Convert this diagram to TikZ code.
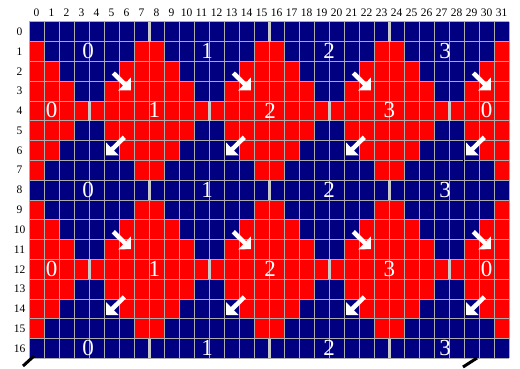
\documentclass[tikz,border=0pt]{standalone}
\usepackage{fontspec}
\setmainfont{Liberation Serif}
\usepackage{tikz}
\usetikzlibrary{arrows.meta}
\usepackage{xcolor}
\definecolor{CellBlue}{RGB}{0,0,128}
\definecolor{CellRed}{RGB}{255,0,0}
\definecolor{GridGray}{RGB}{172,172,172}
\definecolor{SeamGray}{RGB}{200,200,200}
\tikzset{
  bluecell/.style={fill=CellBlue},
  redcell/.style={fill=CellRed},
  gridline/.style={draw=GridGray, line width=0.8pt},
  seammark/.style={draw=SeamGray, line width=3pt},
  indexlabel/.style={font=\fontsize{11.5}{12}\selectfont, inner sep=0pt},
  tilelabel/.style={text=white, font=\fontsize{23}{23}\selectfont,
    inner sep=0pt},
  shiftarrow/.style={white, line width=4.5pt,
    -{Triangle[length=9pt,width=17.6pt]}},
  tickmark/.style={black, line width=3pt}
}

\begin{document}
\begin{tikzpicture}[x=1pt,y=-1pt]
  \useasboundingbox (0,0) rectangle (520,368);

  \foreach \r in {0,...,16}{
    \foreach \c in {0,...,31}{
      \pgfmathtruncatemacro{\isblue}{abs(mod(\c,8)-3.5)+min(mod(\r,8),8-mod(\r,8))<4}
      \ifnum\isblue=1
        \fill[bluecell] ({29+15*\c},{21.7+19.8*\r}) rectangle ++(15,19.8);
      \else
        \fill[redcell] ({29+15*\c},{21.7+19.8*\r}) rectangle ++(15,19.8);
      \fi
    }
  }

  \foreach \c in {0,...,32}
    \draw[gridline] ({29+15*\c},21.7) -- ({29+15*\c},358.3);
  \foreach \r in {0,...,17}
    \draw[gridline] (29,{21.7+19.8*\r}) -- (509,{21.7+19.8*\r});

  \foreach \r in {0,8,16}
    \foreach \c in {8,16,24}
      \draw[seammark] ({29+15*\c},{21.7+19.8*\r}) -- ++(0,19.8);
  \foreach \r in {4,12}
    \foreach \c in {4,12,20,28}
      \draw[seammark] ({29+15*\c},{21.7+19.8*\r}) -- ++(0,19.8);
  \draw[black, line width=0.8pt] (463.7,160.3) -- (463.7,180.1);

  \foreach \c in {0,...,31}
    \node[indexlabel] (col\c) at ({36.5+15*\c},12.3) {\c};
  \foreach \r in {0,...,16}
    \node[indexlabel] (row\r) at (19.5,{31.6+19.8*\r}) {\r};

  \foreach \r in {1,8,16}
    \foreach \x/\t in {88/0,207/1,329/2,445/3}
      \node[tilelabel] (tile\r-\t) at (\x,{31.2+19.8*\r}) {\t};
  \foreach \r in {4,12}
    \foreach \x/\t [count=\i] in {51.7/0,154.3/1,270/2,389.3/3,486.7/0}
      \node[tilelabel] (half\r-\i) at (\x,{31.2+19.8*\r}) {\t};

  \foreach \k in {0,...,3}{
    \draw[shiftarrow] ({113.3+120*\k},73) -- ++(17.7,17.3);
    \draw[shiftarrow] ({113.3+120*\k},231.7) -- ++(17.7,17.5);
    \draw[shiftarrow] ({124.3+120*\k},137.3) -- ++(-18.3,18);
    \draw[shiftarrow] ({124.3+120*\k},297) -- ++(-18.3,18);
  }

  \draw[tickmark] (23,366) -- (34,356);
  \draw[tickmark] (463,367) -- (477,358);
\end{tikzpicture}
\end{document}
